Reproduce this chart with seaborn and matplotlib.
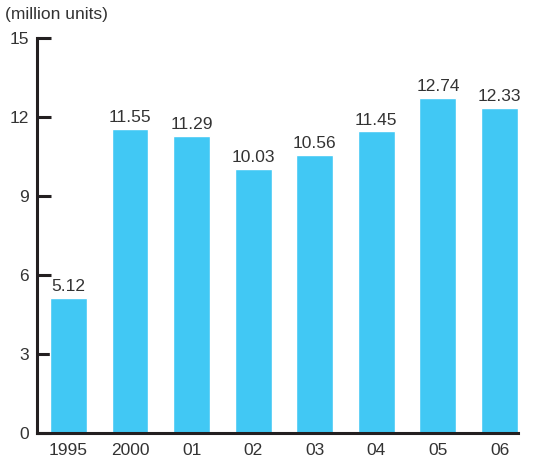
import seaborn as sns
import matplotlib.pyplot as plt
import pandas as pd

# Dados do gráfico
anos = ["1995", "2000", "01", "02", "03", "04", "05", "06"]
unidades = [5.12, 11.55, 11.29, 10.03, 10.56, 11.45, 12.74, 12.33]
rotulos = ["5.12", "11.55", "11.29", "10.03", "10.56", "11.45", "12.74", "12.33"]
ticks_y = [0, 3, 6, 9, 12, 15]

df = pd.DataFrame({"ano": anos, "valor": unidades})

sns.set_style("white")
plt.rcParams['font.family'] = ['Liberation Sans', 'DejaVu Sans']

fig = plt.figure(figsize=(5.43, 4.62), dpi=100)
ax = fig.add_axes([37 / 543, (462 - 433) / 462, (518 - 37) / 543, (433 - 38) / 462])

sns.barplot(data=df, x="ano", y="valor", color="#41c8f4", saturation=1,
            width=0.6, ax=ax)

for i, (v, r) in enumerate(zip(unidades, rotulos)):
    ax.text(i, v + 0.15, r, ha="center", va="bottom", fontsize=12.5, color="#333333")

ax.set_xlim(-0.51, 7.3)
ax.set_ylim(0, 15)
ax.set_yticks(ticks_y)
ax.set_xlabel("")
ax.set_ylabel("")

for s in ["top", "right"]:
    ax.spines[s].set_visible(False)
for s in ["left", "bottom"]:
    ax.spines[s].set_linewidth(2.2)
    ax.spines[s].set_color("#231f20")

ax.tick_params(axis="y", direction="in", length=10, width=2.2, color="#231f20",
               labelsize=12.5, labelcolor="#333333", pad=6, left=True)
ax.tick_params(axis="x", length=0, labelsize=12.5, labelcolor="#333333", pad=7)

fig.text(5 / 543, 1 - 15 / 462, "(million units)", ha="left", va="center",
         fontsize=12.5, color="#333333")

fig.savefig("out.png", dpi=100)
